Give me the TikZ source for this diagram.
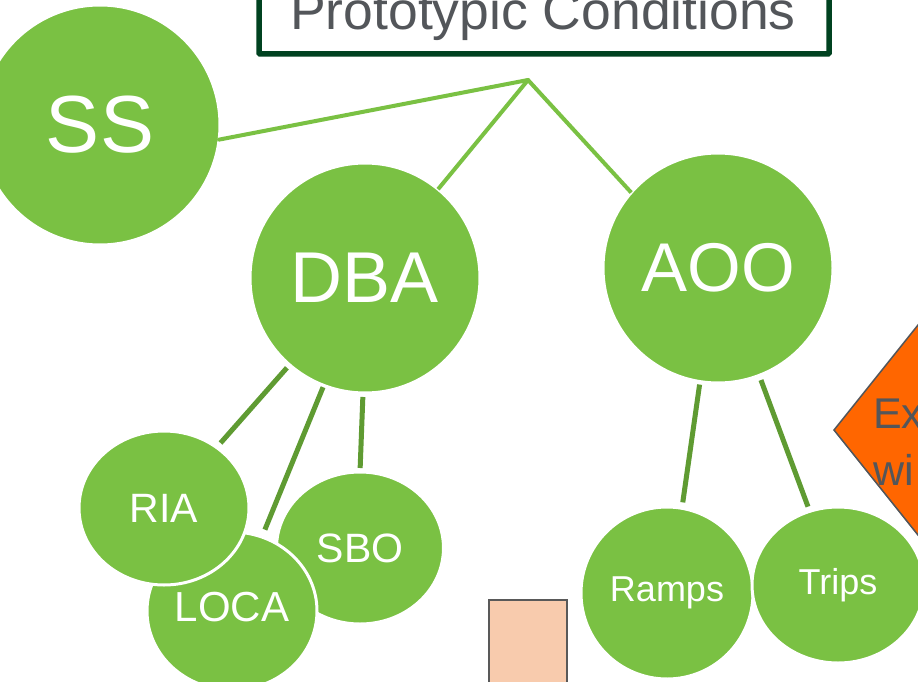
\documentclass[tikz,border=0pt]{standalone}
\usepackage{fontspec}
\setmainfont{Liberation Sans}
\usetikzlibrary{shapes.geometric}
\definecolor{lgreen}{HTML}{7AC143}
\definecolor{dgreen}{HTML}{5F9B32}
\definecolor{boxgreen}{HTML}{004220}
\definecolor{txtgray}{HTML}{53565A}
\definecolor{orng}{HTML}{FF6600}
\definecolor{peach}{HTML}{F8CBAD}
\definecolor{rgray}{HTML}{595959}
\tikzset{
  circ/.style={ellipse, fill=lgreen, draw=white, line width=3pt, text=white, inner sep=0pt, outer sep=0pt},
  topline/.style={draw=lgreen, line width=4pt},
  subline/.style={draw=dgreen, line width=5pt},
}
\begin{document}
\begin{tikzpicture}[x=1pt,y=-1pt]
\useasboundingbox (0,0) rectangle (918,682);
\clip (0,0) rectangle (918,682);
\fill[white] (0,0) rectangle (918,682);

% top box
\draw[draw=boxgreen, line width=5.5pt, rounded corners=1pt] (259,-40) rectangle (829,54);
\node[anchor=base, text=txtgray, font=\fontsize{53.5}{60}\selectfont, inner sep=0pt] (title) at (543,30) {Prototypic Conditions};

% diamond
\draw[fill=orng, draw=txtgray, line width=1.5pt] (1010,210) -- (834,430) -- (1010,650) -- cycle;
\node[anchor=base west, text=txtgray, font=\fontsize{43}{50}\selectfont, inner sep=0pt] (ex) at (873,428) {Ex};
\node[anchor=base west, text=txtgray, font=\fontsize{43}{50}\selectfont, inner sep=0pt] (wi) at (873,485) {wi};

% peach rectangle
\draw[fill=peach, draw=rgray, line width=2pt] (489,600) rectangle (567,720);

% circles
\node[circ, minimum width=240pt, minimum height=240pt, font=\fontsize{81}{90}\selectfont] (SS) at (100,125) {SS};
\node[circ, minimum width=230pt, minimum height=230pt, font=\fontsize{72}{80}\selectfont] (DBA) at (365,278) {DBA};
\node[circ, minimum width=230pt, minimum height=230pt, font=\fontsize{69}{80}\selectfont] (AOO) at (718,268) {AOO};

\node[circ, minimum width=167pt, minimum height=152pt, font=\fontsize{41}{48}\selectfont] (SBO) at (360,548) {SBO};
\node[circ, minimum width=170pt, minimum height=158pt, font=\fontsize{42}{48}\selectfont] (LOCA) at (232,611) {\raisebox{8pt}{LOCA}};
\node[circ, minimum width=170pt, minimum height=154pt, font=\fontsize{41}{48}\selectfont] (RIA) at (164,508) {RIA};

\node[circ, minimum width=172pt, minimum height=172pt, font=\fontsize{36}{42}\selectfont] (Ramps) at (667,593) {\raisebox{-3pt}{Ramps}};
\node[circ, minimum width=172pt, minimum height=156pt, font=\fontsize{36}{42}\selectfont] (Trips) at (838,585) {\raisebox{-2pt}{Trips}};

% top connectors
\coordinate (apex) at (528,80);
\draw[topline, line cap=round] (SS.-7) -- (apex);
\draw[topline] (apex) -- (DBA);
\draw[topline] (apex) -- (AOO.139);
\fill[lgreen] (apex) circle (2pt);

% sub connectors
\draw[subline, shorten <=4pt, shorten >=6pt] (DBA.-131) -- (RIA.49);
\draw[subline, shorten <=2pt, shorten >=8pt] (DBA.-111.5) -- (LOCA.68);
\draw[subline, shorten <=4pt, shorten >=4pt] (DBA.-91) -- (SBO.90);
\draw[subline, shorten <=3pt, shorten >=6pt] (AOO.-99) -- (Ramps.80);
\draw[subline, shorten <=5pt, shorten >=5pt] (AOO.-69) -- (Trips.111);
\end{tikzpicture}
\end{document}
